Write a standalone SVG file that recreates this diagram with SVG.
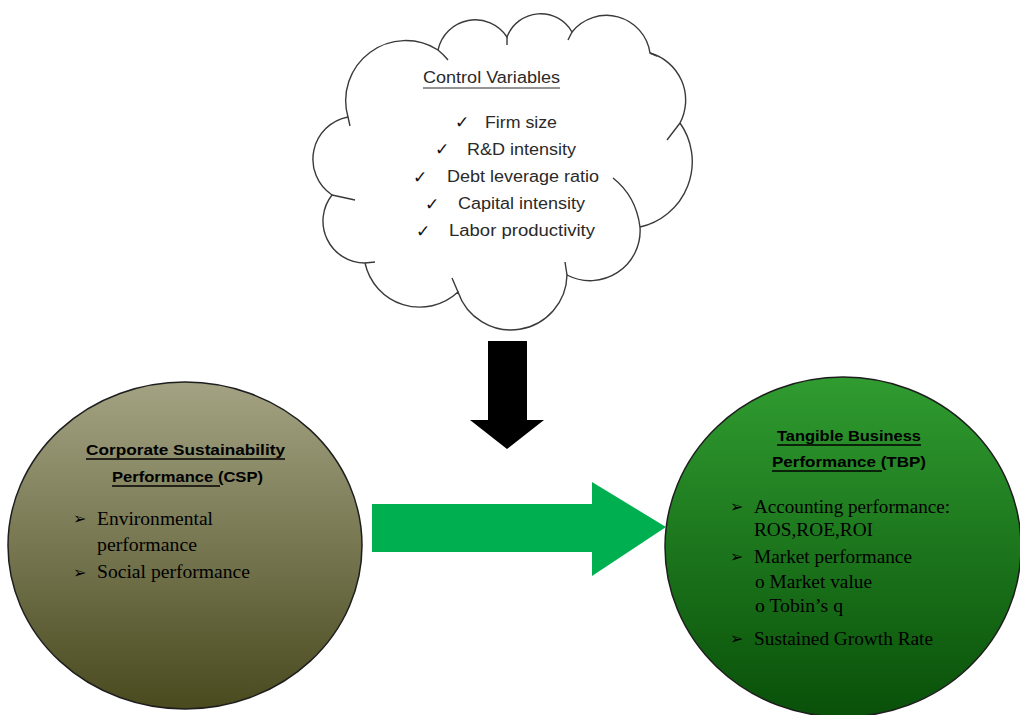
<svg xmlns="http://www.w3.org/2000/svg" width="1020" height="715" viewBox="0 0 1020 715">
  <defs>
    <linearGradient id="gOlive" x1="0" y1="0" x2="0" y2="1">
      <stop offset="0" stop-color="#a3a383"/>
      <stop offset="1" stop-color="#4a4a1f"/>
    </linearGradient>
    <linearGradient id="gGreen" x1="0" y1="0" x2="0" y2="1">
      <stop offset="0" stop-color="#309c30"/>
      <stop offset="1" stop-color="#095009"/>
    </linearGradient>
    <style>
      .cloud { fill: #ffffff; stroke: #3a3a3a; stroke-width: 1.4; }
      .cusp { fill: none; stroke: #3a3a3a; stroke-width: 1.4; }
      .ctext { font-family: "Liberation Sans", Arial, sans-serif; font-size: 16px; fill: #2a2a2a; }
      .check { font-family: "DejaVu Sans", sans-serif; font-size: 17px; fill: #111; }
      .circle { stroke: #1e1e1e; stroke-width: 1.5; }
      .title { font-family: "Liberation Sans", Arial, sans-serif; font-size: 15px; font-weight: bold; fill: #000; }
      .body { font-family: "Liberation Serif", "Times New Roman", serif; font-size: 18px; fill: #000; }
      .bullet { font-family: "DejaVu Sans", sans-serif; font-size: 16px; fill: #000; }
      .uline { stroke: #000; stroke-width: 1.3; }
    </style>
  </defs>
  <rect width="1020" height="715" fill="#ffffff"/>

  <g id="control-variables">
    <path class="cloud" d="M 348,117 A 60 60 0 0 1 438,50 A 38 38 0 0 1 507,37 A 36 36 0 0 1 572,32 A 44 44 0 0 1 650,53 A 49 49 0 0 1 680,123 A 67 67 0 0 1 640,227 A 50 50 0 0 1 567,275 A 56 56 0 0 1 458,292 A 56 56 0 0 1 365,263 A 42 42 0 0 1 332,195 A 43 43 0 0 1 348,117 Z"/>
    <path class="cusp" d="M348,117 L350,126 M438,50 Q444,55 448,60 M507,37 L507,45 M572,32 L568,40 M650,53 L657,56 M680,123 L667,140 M640,227 Q636,196 613,178 M567,275 L565,262 M458,292 L452,278 M365,263 L375,262 M332,195 L355,200"/>
    <text class="ctext" x="423" y="83" textLength="137" lengthAdjust="spacingAndGlyphs">Control Variables</text>
    <line x1="423" y1="88" x2="560" y2="88" stroke="#2a2a2a" stroke-width="1"/>
    <text class="check" x="455" y="128">✓</text>
    <text class="ctext" x="485" y="128" textLength="72" lengthAdjust="spacingAndGlyphs" fill="#555">Firm size</text>
    <text class="check" x="435" y="155">✓</text>
    <text class="ctext" x="467" y="155" textLength="109" lengthAdjust="spacingAndGlyphs">R&amp;D intensity</text>
    <text class="check" x="413" y="183">✓</text>
    <text class="ctext" x="447" y="182" textLength="152" lengthAdjust="spacingAndGlyphs">Debt leverage ratio</text>
    <text class="check" x="425" y="210">✓</text>
    <text class="ctext" x="458" y="209" textLength="127" lengthAdjust="spacingAndGlyphs">Capital intensity</text>
    <text class="check" x="416" y="237">✓</text>
    <text class="ctext" x="449" y="236" textLength="146" lengthAdjust="spacingAndGlyphs">Labor productivity</text>
  </g>

  <g id="csp">
    <ellipse class="circle" cx="185" cy="545.5" rx="177" ry="163.5" fill="url(#gOlive)"/>
    <text class="title" x="86" y="455" textLength="199" lengthAdjust="spacingAndGlyphs">Corporate Sustainability</text>
    <line class="uline" x1="86" y1="459" x2="285" y2="459"/>
    <text class="title" x="112" y="482" textLength="151" lengthAdjust="spacingAndGlyphs">Performance (CSP)</text>
    <line class="uline" x1="112" y1="486" x2="220" y2="486"/>
    <text class="bullet" x="73" y="524">➢</text>
    <text class="body" x="97" y="525" textLength="116" lengthAdjust="spacingAndGlyphs">Environmental</text>
    <text class="body" x="97" y="551" textLength="100" lengthAdjust="spacingAndGlyphs">performance</text>
    <text class="bullet" x="73" y="578">➢</text>
    <text class="body" x="97" y="578" textLength="153" lengthAdjust="spacingAndGlyphs">Social performance</text>
  </g>

  <g id="tbp">
    <ellipse class="circle" cx="843" cy="547" rx="178" ry="170" fill="url(#gGreen)"/>
    <text class="title" x="777" y="441" textLength="144" lengthAdjust="spacingAndGlyphs">Tangible Business</text>
    <line class="uline" x1="777" y1="445" x2="921" y2="445"/>
    <text class="title" x="772" y="467" textLength="154" lengthAdjust="spacingAndGlyphs">Performance (TBP)</text>
    <line class="uline" x1="772" y1="471" x2="882" y2="471"/>
    <text class="bullet" x="730" y="512">➢</text>
    <text class="body" x="754" y="513" textLength="196" lengthAdjust="spacingAndGlyphs">Accounting performance:</text>
    <text class="body" x="754" y="536" textLength="119" lengthAdjust="spacingAndGlyphs">ROS,ROE,ROI</text>
    <text class="bullet" x="730" y="562">➢</text>
    <text class="body" x="754" y="563" textLength="158" lengthAdjust="spacingAndGlyphs">Market performance</text>
    <text class="body" x="755" y="588" textLength="117" lengthAdjust="spacingAndGlyphs">o Market value</text>
    <text class="body" x="755" y="612" textLength="88" lengthAdjust="spacingAndGlyphs">o Tobin’s q</text>
    <text class="bullet" x="730" y="644">➢</text>
    <text class="body" x="754" y="645" textLength="179" lengthAdjust="spacingAndGlyphs">Sustained Growth Rate</text>
  </g>

  <g id="connectors">
    <polygon points="488,341 527,341 527,420 544,420 507,449 470,420 488,420" fill="#000000"/>
    <polygon points="372,504 592,504 592,482 666,527 592,576 592,552 372,552" fill="#00b050"/>
  </g>
</svg>
